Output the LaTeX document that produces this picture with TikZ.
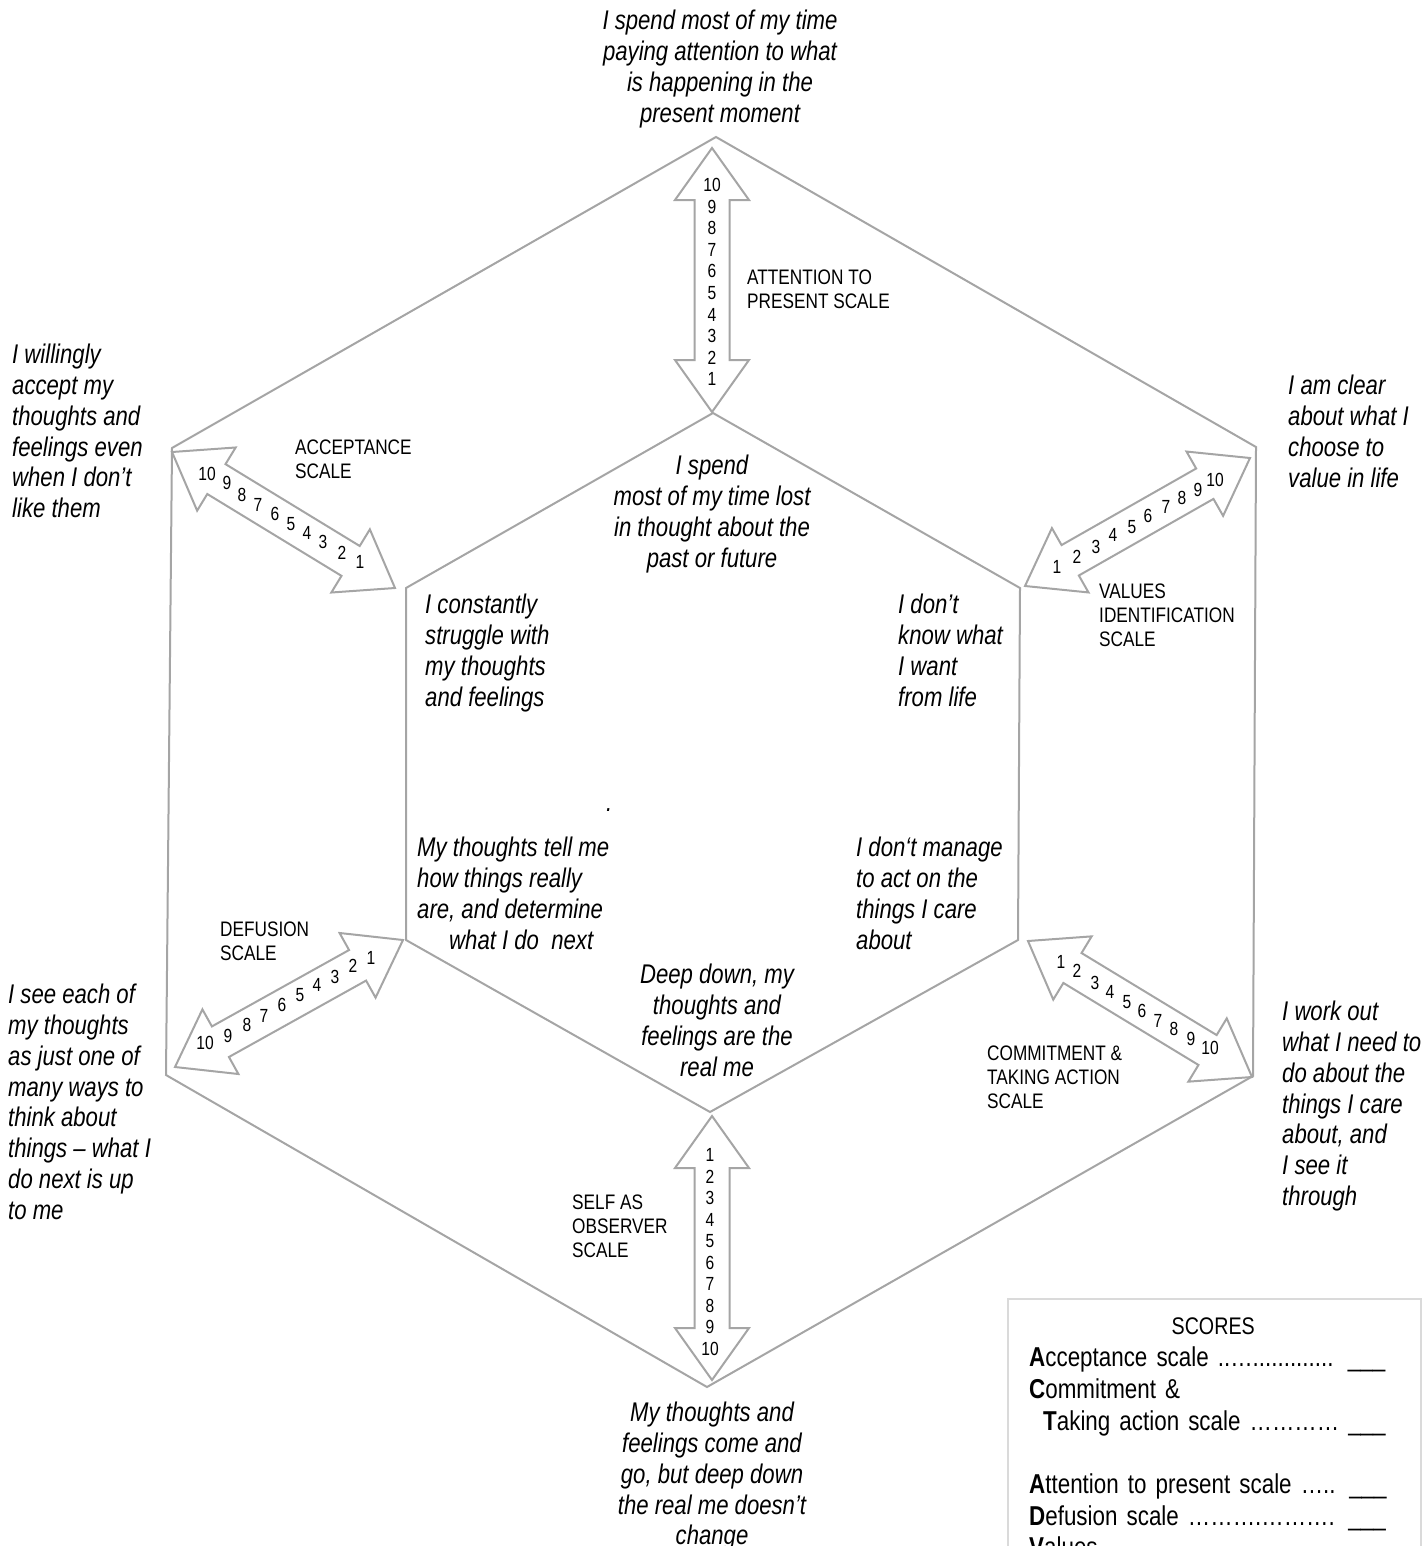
\documentclass[tikz,border=0pt]{standalone}
\usepackage{fontspec}
\setmainfont{Liberation Sans}[FakeStretch=0.82]
\usetikzlibrary{calc}
\definecolor{edgegray}{RGB}{165,165,165}
\definecolor{boxgray}{RGB}{218,218,218}
\tikzset{
  x=1bp, y=-1bp,
  hexline/.style={draw=edgegray, line width=2bp, line join=miter},
  arrowshape/.style={draw=edgegray, line width=2bp, fill=white, line join=miter},
  quote/.style={font=\itshape\fontsize{27bp}{30.8bp}\selectfont, inner sep=0pt, align=left, anchor=north west},
  quotec/.style={quote, align=center, anchor=north},
  lbl/.style={font=\fontsize{21bp}{24bp}\selectfont, inner sep=0pt, align=left, anchor=north west},
  dig/.style={font=\fontsize{19bp}{21.6bp}\selectfont, inner sep=0pt},
}
\newcommand\blockarrow[2]{%
  \coordinate (h1) at ($(#1)!52bp!(#2)$);
  \coordinate (h2) at ($(#2)!52bp!(#1)$);
  \draw[arrowshape] (#1) -- ($(h1)!37bp!90:(#2)$) -- ($(h1)!17.5bp!90:(#2)$)
    -- ($(h2)!17.5bp!-90:(#1)$) -- ($(h2)!37bp!-90:(#1)$) -- (#2)
    -- ($(h2)!37bp!90:(#1)$) -- ($(h2)!17.5bp!90:(#1)$)
    -- ($(h1)!17.5bp!-90:(#2)$) -- ($(h1)!37bp!-90:(#2)$) -- cycle;}
\newcommand\scoreline[1]{\makebox[356bp][l]{#1\hfill\_\_\_}}
\begin{document}
\begin{tikzpicture}
\useasboundingbox (0,0) rectangle (1425,1546);
\clip (0,0) rectangle (1425,1546);
% outer hexagon
\coordinate (o1) at (716,137);
\coordinate (o2) at (1256,447);
\coordinate (o3) at (1253,1076);
\coordinate (o4) at (707,1387);
\coordinate (o5) at (166,1075);
\coordinate (o6) at (172,448);
\draw[hexline] (o1) -- (o2) -- (o3) -- (o4) -- (o5) -- (o6) -- cycle;
% inner hexagon
\coordinate (i1) at (713,413);
\coordinate (i2) at (1020,588);
\coordinate (i3) at (1018,940);
\coordinate (i4) at (710,1112);
\coordinate (i5) at (406,940);
\coordinate (i6) at (406,588);
\draw[hexline] (i1) -- (i2) -- (i3) -- (i4) -- (i5) -- (i6) -- cycle;
% arrow end points
\coordinate (tA) at (712,148);  \coordinate (tB) at (712,412);
\coordinate (bA) at (712,1116); \coordinate (bB) at (712,1380);
\coordinate (aA) at (172,452);  \coordinate (aB) at (395,588);
\coordinate (vA) at (1250,458); \coordinate (vB) at (1025,586);
\coordinate (dA) at (403,940);  \coordinate (dB) at (175,1067);
\coordinate (cA) at (1028,941); \coordinate (cB) at (1252,1077);
\blockarrow{tA}{tB}
\blockarrow{bA}{bB}
\blockarrow{aA}{aB}
\blockarrow{vA}{vB}
\blockarrow{dA}{dB}
\blockarrow{cA}{cB}
% digits
\foreach \n [count=\i from 0] in {10,9,8,7,6,5,4,3,2,1}
  \node[dig] (td\n) at (712,185+21.6*\i) {\n};
\foreach \n [count=\i from 0] in {1,2,3,4,5,6,7,8,9,10}
  \node[dig] (bd\n) at (710,1155+21.5*\i) {\n};
\foreach \n/\px/\py in {10/207/474,9/227/483,8/242/495,7/258/505,6/275/514,5/291/524,4/307/533,3/323/542,2/342/553,1/360/562}
  \node[dig] (ad\n) at (\px,\py) {\n};
\foreach \n/\px/\py in {1/1057/567,2/1077/557,3/1096/547,4/1113/535,5/1132/527,6/1148/516,7/1166/507,8/1182/498,9/1198/490,10/1215/480}
  \node[dig] (vd\n) at (\px,\py) {\n};
\foreach \n/\px/\py in {10/205/1043,9/228/1036,8/247/1025,7/264/1016,6/282/1005,5/300/995,4/317/985,3/335/977,2/353/966,1/371/958}
  \node[dig] (dd\n) at (\px,\py) {\n};
\foreach \n/\px/\py in {1/1061/962,2/1077/971,3/1095/983,4/1110/992,5/1127/1002,6/1142/1011,7/1158/1021,8/1174/1029,9/1191/1039,10/1210/1048}
  \node[dig] (cd\n) at (\px,\py) {\n};
% scale labels
\node[lbl] (latt) at (747,270) {ATTENTION TO\\PRESENT SCALE};
\node[lbl] (lacc) at (295,440) {ACCEPTANCE\\SCALE};
\node[lbl] (lval) at (1099,584) {VALUES\\IDENTIFICATION\\SCALE};
\node[lbl] (ldef) at (220,922) {DEFUSION\\SCALE};
\node[lbl] (lcom) at (987,1046) {COMMITMENT \&\\TAKING ACTION\\SCALE};
\node[lbl] (lobs) at (572,1195) {SELF AS\\OBSERVER\\SCALE};
% outer statements
\node[quotec] (qtop) at (720,10) {I spend most of my time\\paying attention to what\\is happening in the\\present moment};
\node[quote] (qul) at (12,344) {I willingly\\accept my\\thoughts and\\feelings even\\when I don’t\\like them};
\node[quote] (qur) at (1288,375) {I am clear\\about what I\\choose to\\value in life};
\node[quote] (qll) at (8,984) {I see each of\\my thoughts\\as just one of\\many ways to\\think about\\things – what I\\do next is up\\to me};
\node[quote] (qlr) at (1282,1001) {I work out\\what I need to\\do about the\\things I care\\about, and\\I see it\\through};
\node[quotec] (qbot) at (712,1402) {My thoughts and\\feelings come and\\go, but deep down\\the real me doesn’t\\change};
% inner statements
\node[quotec] (itop) at (712,455) {I spend\\most of my time lost\\in thought about the\\past or future};
\node[quote] (iul) at (425,594) {I constantly\\struggle with\\my thoughts\\and feelings};
\node[quote] (iur) at (898,594) {I don’t\\know what\\I want\\from life};
\node[quote] (idot) at (606,808) {.};
\node[quote] (ill) at (417,837) {My thoughts tell me\\how things really\\are, and determine\\\hspace*{32bp}what I do\ \ next};
\node[quote] (ilr) at (856,837) {I don‘t manage\\to act on the\\things I care\\about};
\node[quotec] (ibot) at (717,964) {Deep down, my\\thoughts and\\feelings are the\\real me};
% scores box
\draw[draw=boxgray, line width=1.5bp] (1008,1299) rectangle (1421,1600);
\node[inner sep=0pt, anchor=north west, text width=358bp, align=left,
      font=\fontsize{27.3bp}{31.7bp}\selectfont] (scores) at (1029,1318)
 {\makebox[356bp]{\hspace*{12bp}\fontsize{24bp}{31.7bp}\selectfont SCORES}\\
  \scoreline{\textbf{A}cceptance scale ..…............. }\\
  \textbf{C}ommitment \&\\
  \scoreline{\hspace*{14bp}\textbf{T}aking action scale ………… }\\
  \mbox{}\\
  \scoreline{\textbf{A}ttention to present scale ….. }\\
  \scoreline{\textbf{D}efusion scale ……….………. }\\
  \textbf{V}alues};
\end{tikzpicture}
\end{document}
